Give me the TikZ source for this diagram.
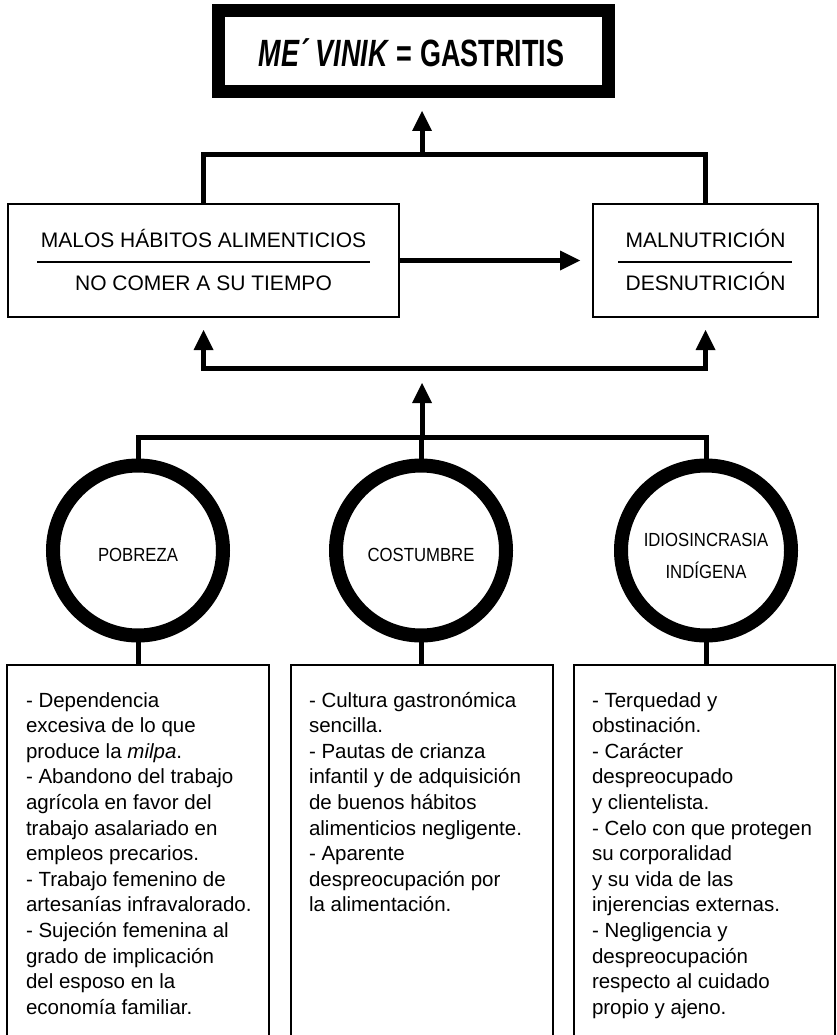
\documentclass[tikz,border=0pt]{standalone}
\usepackage{fontspec}
\setmainfont{Liberation Sans}
\newfontfamily\titlefont[FakeStretch=0.71]{Liberation Sans}
\newfontfamily\circfont[FakeStretch=0.88]{Liberation Sans}
\usetikzlibrary{arrows.meta}
\begin{document}
\begin{tikzpicture}[x=1pt,y=-1pt,
  every node/.style={outer sep=0pt},
  conn/.style={line width=5pt, line join=miter},
  tip/.tip={Triangle[width=20pt,length=20pt,line width=0pt]},
  arr/.style={conn, -tip},
  darr/.style={conn, tip-tip},
  titlebox/.style={draw, line width=13pt, rectangle, minimum width=390pt, minimum height=81pt, inner sep=0pt},
  ubox/.style={draw, line width=2.7pt, rectangle, minimum height=113pt, inner sep=0pt},
  lbox/.style={draw, line width=2.7pt, rectangle, minimum height=420pt, inner sep=0pt, anchor=north},
  circ/.style={draw, line width=14pt, circle, minimum size=170pt, inner sep=0pt},
  utext/.style={inner sep=0pt, anchor=base, font=\fontsize{21}{25}\selectfont},
  ctext/.style={inner sep=0pt, align=center, font=\circfont\fontsize{19}{32}\selectfont},
  ltext/.style={inner sep=0pt, anchor=base west, font=\fontsize{20.5}{25.6}\selectfont},
  rulel/.style={line width=1.1pt}]
\useasboundingbox (0,0) rectangle (837,1035);
\clip (0,0) rectangle (837,1035);

% title
\node[titlebox] (title) at (413.5,51) {};
\node[inner sep=0pt, anchor=base, font=\titlefont\bfseries\fontsize{38}{40}\selectfont] (tt) at (411.5,67) {\textit{ME´ VINIK} = GASTRITIS};

% upper boxes
\node[ubox, minimum width=391pt] (malos) at (203.5,260.5) {};
\node[ubox, minimum width=225pt] (maln) at (705.5,260.5) {};
\node[utext] (m1) at (203.5,247) {MALOS HÁBITOS ALIMENTICIOS};
\node[utext] (m2) at (203.5,290) {NO COMER A SU TIEMPO};
\node[utext] (n1) at (705.5,247) {MALNUTRICIÓN};
\node[utext] (n2) at (705.5,290) {DESNUTRICIÓN};
\coordinate (r1a) at (37,262); \coordinate (r1b) at (370,262);
\coordinate (r2a) at (618,262); \coordinate (r2b) at (792,262);
\draw[rulel] (r1a) -- (r1b);
\draw[rulel] (r2a) -- (r2b);

% circles
\node[circ] (c1) at (138,550.5) {};
\node[circ] (c2) at (421,550.5) {};
\node[circ] (c3) at (706,550.5) {};
\node[ctext] (ct1) at (138,555) {POBREZA};
\node[ctext] (ct2) at (421,555) {COSTUMBRE};
\node[ctext] (ct3) at (706,556) {IDIOSINCRASIA\\INDÍGENA};

% lower boxes
\node[lbox, minimum width=262pt] (b1) at (138,665) {};
\node[lbox, minimum width=262pt] (b2) at (422,665) {};
\node[lbox, minimum width=261pt] (b3) at (704.5,665) {};

% levels
\coordinate (tv) at (0,155);
\coordinate (mv) at (0,368);
\coordinate (lv) at (0,437);
\coordinate (ta) at (422,155);
\coordinate (ma) at (422,437);

% top connectors
\draw[conn] (malos.north) -- (malos.north |- tv) -- (maln.north |- tv) -- (maln.north);
\draw[arr, shorten >=19.5pt] (ta) -- (ta |- title.south);
\draw[arr, shorten >=13pt] (malos.east) -- (maln.west);

% middle connectors
\draw[darr, shorten <=13pt, shorten >=13pt] (malos.south) -- (malos.south |- mv) -- (maln.south |- mv) -- (maln.south);
\draw[conn] (c1.north) -- (c1 |- lv) -- (c3 |- lv) -- (c3.north);
\draw[conn] (c2.north) -- (c2 |- lv);
\draw[arr, shorten >=15pt] (ma) -- (ma |- mv);

% lower connectors
\draw[conn] (c1.south) -- (c1.south |- b1.north);
\draw[conn] (c2.south) -- (c2.south |- b2.north);
\draw[conn] (c3.south) -- (c3.south |- b3.north);

% lower texts
\node[ltext] (tx1) at (26,707) {\parbox[t]{250pt}{\raggedright
- Dependencia\\
excesiva de lo que\\
produce la \textit{milpa}.\\
- Abandono del trabajo\\
agrícola en favor del\\
trabajo asalariado en\\
empleos precarios.\\
- Trabajo femenino de\\
artesanías infravalorado.\\
- Sujeción femenina al\\
grado de implicación\\
del esposo en la\\
economía familiar.}};
\node[ltext] (tx2) at (309,707) {\parbox[t]{250pt}{\raggedright
- Cultura gastronómica\\
sencilla.\\
- Pautas de crianza\\
infantil y de adquisición\\
de buenos hábitos\\
alimenticios negligente.\\
- Aparente\\
despreocupación por\\
la alimentación.}};
\node[ltext] (tx3) at (592,707) {\parbox[t]{250pt}{\raggedright
- Terquedad y\\
obstinación.\\
- Carácter\\
despreocupado\\
y clientelista.\\
- Celo con que protegen\\
su corporalidad\\
y su vida de las\\
injerencias externas.\\
- Negligencia y\\
despreocupación\\
respecto al cuidado\\
propio y ajeno.}};
\end{tikzpicture}
\end{document}
